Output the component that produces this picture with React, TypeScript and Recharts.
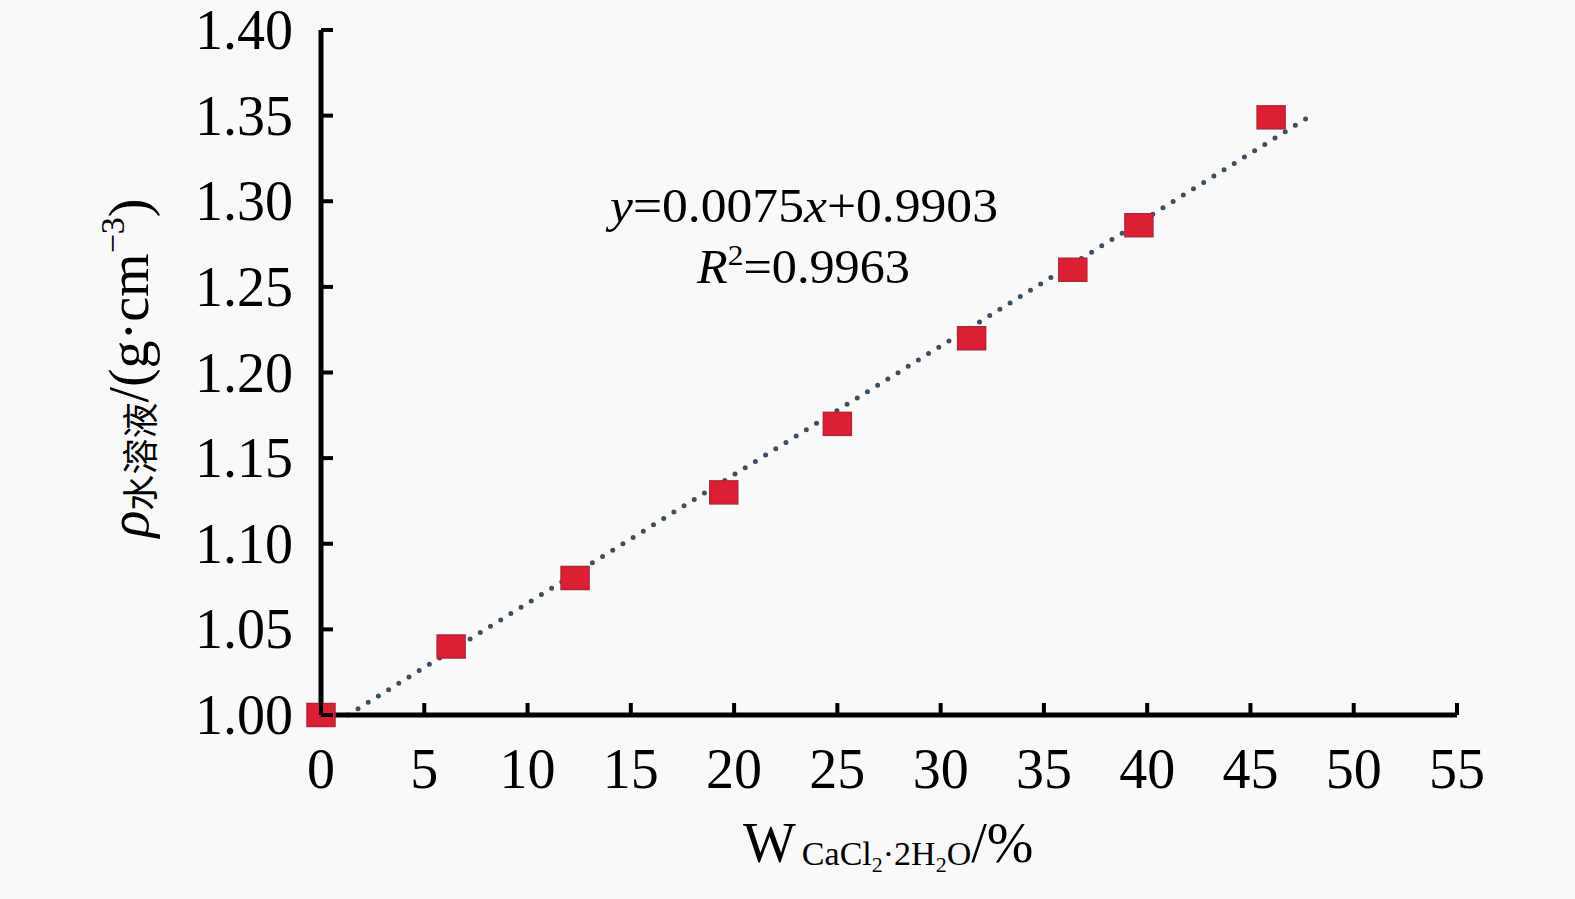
import React from "react";
import { ComposedChart, Scatter, Line, XAxis, YAxis } from "recharts";

// tick labels
const xTicks = [0, 5, 10, 15, 20, 25, 30, 35, 40, 45, 50, 55];
const yTicks = [1.0, 1.05, 1.1, 1.15, 1.2, 1.25, 1.3, 1.35, 1.4];

// measured points: CaCl2·2H2O mass fraction (%) vs solution density
const wValues = [0, 6.3, 12.3, 19.5, 25.0, 31.5, 36.4, 39.6, 46.0];
const rhoValues = [1.0, 1.04, 1.08, 1.13, 1.17, 1.22, 1.26, 1.286, 1.349];

// linear trendline ends, as drawn
const trendW = [1.3, 47.8];
const trendRho = [1.0, 1.349];

const points = wValues.map((w, i) => ({ w, rho: rhoValues[i] }));
const trend = trendW.map((w, i) => ({ w, rho: trendRho[i] }));

const FONT = "'Liberation Serif', 'Times New Roman', serif";
const CJK = "'Noto Sans CJK SC', sans-serif";

function XTick(props: any) {
  const { x, y, payload } = props;
  return (
    <g>
      <line x1={x} x2={x} y1={y} y2={y - 12} stroke="#000" strokeWidth={4} />
      <text x={x} y={y + 73} textAnchor="middle" fontSize={56} fontFamily={FONT} fill="#000">
        {payload.value}
      </text>
    </g>
  );
}

function YTick(props: any) {
  const { x, y, payload } = props;
  return (
    <g>
      <line x1={x} x2={x + 12} y1={y} y2={y} stroke="#000" strokeWidth={4} />
      <text x={x - 28} y={y} dy="0.34em" textAnchor="end" fontSize={56} fontFamily={FONT} fill="#000">
        {Number(payload.value).toFixed(2)}
      </text>
    </g>
  );
}

function Square(props: any) {
  const { cx, cy } = props;
  return <rect x={cx - 14} y={cy - 11.5} width={28} height={23} fill="#dc1f33" stroke="#b3263a" strokeWidth={1.5} />;
}

export default function App() {
  return (
    <div style={{ position: "absolute", left: 0, top: 0, width: 1575, height: 899, background: "#f9f9f9" }}>
      <ComposedChart width={1575} height={899} margin={{ top: 30, right: 118, bottom: 124, left: 261 }}>
        <XAxis
          type="number"
          dataKey="w"
          domain={[0, 55]}
          ticks={xTicks}
          interval={0}
          height={60}
          tickSize={0}
          tickMargin={0}
          tickLine={false}
          axisLine={{ stroke: "#000", strokeWidth: 5 }}
          tick={<XTick />}
        />
        <YAxis
          type="number"
          dataKey="rho"
          domain={[1.0, 1.4]}
          ticks={yTicks}
          interval={0}
          width={60}
          tickSize={0}
          tickMargin={0}
          tickLine={false}
          axisLine={{ stroke: "#000", strokeWidth: 5 }}
          tick={<YTick />}
        />
        <Line
          data={trend}
          dataKey="rho"
          type="linear"
          stroke="#3f4f5f"
          strokeWidth={5}
          strokeDasharray="0 12"
          strokeLinecap="round"
          dot={false}
          activeDot={false}
          isAnimationActive={false}
        />
        <Scatter data={points} dataKey="rho" shape={<Square />} isAnimationActive={false} />
      </ComposedChart>
      <svg
        width={1575}
        height={899}
        style={{ position: "absolute", left: 0, top: 0, pointerEvents: "none" }}
      >
        {/* equation */}
        <text x={610} y={222} fontSize={48} fontFamily={FONT} fill="#000" textLength={388} lengthAdjust="spacingAndGlyphs">
          <tspan fontStyle="italic">y</tspan>=0.0075<tspan fontStyle="italic">x</tspan>+0.9903
        </text>
        <text x={697} y={283} fontSize={48} fontFamily={FONT} fill="#000" textLength={213} lengthAdjust="spacingAndGlyphs">
          <tspan fontStyle="italic">R</tspan>
          <tspan fontSize={30} dy={-18}>2</tspan>
          <tspan dy={18}>=0.9963</tspan>
        </text>
        {/* x axis title */}
        <text x={743} y={862} fontSize={56} fontFamily={FONT} fill="#000">
          W
          <tspan fontSize={34} dy={3} dx={6}>CaCl</tspan>
          <tspan fontSize={22} dy={7}>2</tspan>
          <tspan fontSize={34} dy={-7}>·2H</tspan>
          <tspan fontSize={22} dy={7}>2</tspan>
          <tspan fontSize={34} dy={-7}>O</tspan>
          <tspan dy={-3}>/%</tspan>
        </text>
        {/* y axis title */}
        <g transform="translate(148, 368) rotate(-90)">
          <text x={0} y={0} textAnchor="middle" fontSize={56} fontFamily={FONT} fill="#000">
            <tspan fontStyle="italic">ρ</tspan>
            <tspan fontSize={36} fontFamily={CJK} dy={6}>水溶液</tspan>
            <tspan dy={-6}>/(g·cm</tspan>
            <tspan fontSize={34} dy={-24}>−3</tspan>
            <tspan dy={24}>)</tspan>
          </text>
        </g>
      </svg>
    </div>
  );
}
